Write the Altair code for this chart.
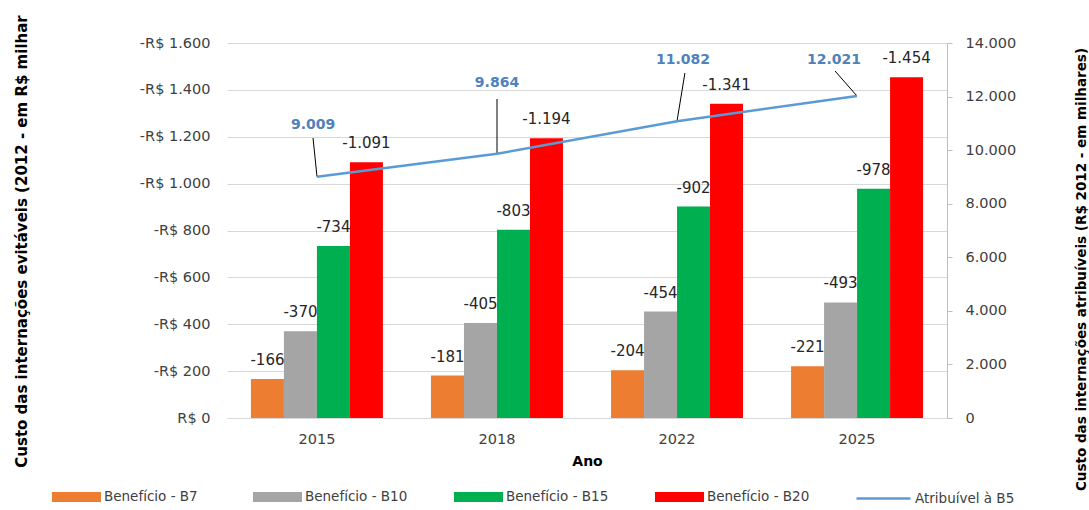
import altair as alt
import pandas as pd

# ---------------- data ----------------
anos = ["2015", "2018", "2022", "2025"]
series = ["Benefício - B7", "Benefício - B10", "Benefício - B15", "Benefício - B20"]
b7 = [-166, -181, -204, -221]
b10 = [-370, -405, -454, -493]
b15 = [-734, -803, -902, -978]
b20 = [-1091, -1194, -1341, -1454]
b5 = [9009, 9864, 11082, 12021]
linha_nome = "Atribuível à B5"
cores = ["#ED7D31", "#A5A5A5", "#00B050", "#FF0000"]
cor_linha = "#5B9BD5"

# annotation anchors for the line labels (category units / right-axis units)
rot_x = [0.478, 1.5, 2.533, 3.372]
rot_y = [10939, 12507, 13365, 13365]
guia_x = [0.478, 1.5, 2.544, 3.378]
guia_y = [10453, 11909, 12880, 12955]

FONT = "DejaVu Sans"

rows = []
for s, vals in zip(series, [b7, b10, b15, b20]):
    for a, v in zip(anos, vals):
        rows.append({"ano": a, "serie": s, "valor": v})
df_bar = pd.DataFrame(rows)

df_line = pd.DataFrame({
    "ano": anos,
    "pos": [i + 0.5 for i in range(len(anos))],
    "val": b5,
    "serie": [linha_nome] * len(anos),
    "rx": rot_x, "ry": rot_y, "gx": guia_x, "gy": guia_y,
})

# ---------------- bars ----------------
x_band = alt.X("ano:N", sort=anos,
               scale=alt.Scale(domain=anos, paddingInner=0.267, paddingOuter=0.133),
               axis=alt.Axis(title="Ano", labelAngle=0, ticks=False, domainColor="#d9d9d9",
                             labelFont=FONT, labelFontSize=14.5, labelColor="#404040",
                             labelPadding=14, titleFont=FONT, titleFontSize=14,
                             titleFontWeight="bold", titleColor="#000000", titlePadding=9))
x_off = alt.XOffset("serie:N", scale=alt.Scale(domain=series, paddingInner=0, paddingOuter=0))
y_left = alt.Y("mag:Q", scale=alt.Scale(domain=[0, 1600], nice=False),
               axis=alt.Axis(title="Custo das internações evitáveis (2012 - em R$ milhar",
                             values=list(range(0, 1601, 200)), domain=False, ticks=False,
                             grid=True, gridColor="#d9d9d9",
                             labelExpr="datum.value == 0 ? 'R$ 0' : '-R$ ' + replace(format(datum.value, ',d'), ',', '.')",
                             labelFont=FONT, labelFontSize=14.5, labelColor="#404040",
                             labelPadding=17, titleFont=FONT, titleFontSize=15,
                             titleFontWeight="bold", titleColor="#000000",
                             titleAngle=270, titleBaseline="bottom", titleX=-198, titleY=198))

bar_base = alt.Chart(df_bar).transform_calculate(
    mag="abs(datum.valor)",
    rot="'-' + replace(format(abs(datum.valor), ',d'), ',', '.')",
)

bars = bar_base.mark_bar().encode(
    x=x_band, xOffset=x_off, y=y_left,
    color=alt.Color("serie:N", scale=alt.Scale(domain=series, range=cores),
                    legend=alt.Legend(title=None, orient="none", direction="horizontal",
                                      columns=4, legendX=-175, legendY=429.5,
                                      symbolType="M-1,-0.2H1V0.2H-1Z", symbolSize=2401,
                                      symbolStrokeWidth=0, labelOffset=3,
                                      columnPadding=46, gridAlign="all", padding=0,
                                      labelFont=FONT, labelFontSize=13.5,
                                      labelColor="#404040")),
)
bar_text = bar_base.mark_text(dy=-14, baseline="alphabetic", align="center",
                              font=FONT, fontSize=15, color="#262626").encode(
    x=x_band, xOffset=x_off, y=y_left, text="rot:N")

bar_layer = alt.layer(bars, bar_text)

# ---------------- line (right axis) ----------------
xq_scale = alt.Scale(domain=[0, 4], nice=False, zero=False)
yr_scale = alt.Scale(domain=[0, 14000], nice=False)
right_axis = alt.Axis(orient="right", title="Custo das internações atribuíveis (R$ 2012 - em milhares)",
                      values=list(range(0, 14001, 2000)), grid=False, domain=True,
                      domainColor="#bfbfbf", ticks=True, tickSize=5, tickColor="#bfbfbf",
                      labelExpr="replace(format(datum.value, ',d'), ',', '.')",
                      labelFont=FONT, labelFontSize=14.5, labelColor="#404040",
                      labelPadding=13, titleFont=FONT, titleFontSize=13.5,
                      titleFontWeight="bold", titleColor="#000000",
                      titleAngle=270, titleBaseline="bottom", titleX=141, titleY=226)

line_base = alt.Chart(df_line).transform_calculate(
    lab="replace(format(datum.val, ',d'), ',', '.')")

line = line_base.mark_line(strokeWidth=2.5).encode(
    x=alt.X("pos:Q", scale=xq_scale, axis=None),
    y=alt.Y("val:Q", scale=yr_scale, axis=right_axis),
    stroke=alt.Stroke("serie:N", scale=alt.Scale(domain=[linha_nome], range=[cor_linha]),
                      legend=alt.Legend(title=None, orient="none", legendX=628, legendY=427,
                                        symbolType="stroke", symbolSize=2916,
                                        symbolStrokeWidth=2.5, labelOffset=3, padding=0,
                                        labelFont=FONT, labelFontSize=13.5,
                                        labelColor="#404040")),
)
leaders = line_base.mark_rule(color="#000000", strokeWidth=1).encode(
    x=alt.X("gx:Q", scale=xq_scale, axis=None),
    y=alt.Y("gy:Q", scale=yr_scale, axis=right_axis),
    x2="pos:Q", y2="val:Q",
)
line_text = line_base.mark_text(font=FONT, fontSize=14, fontWeight="bold",
                                color="#4F81BD", baseline="middle", align="center").encode(
    x=alt.X("rx:Q", scale=xq_scale, axis=None),
    y=alt.Y("ry:Q", scale=yr_scale, axis=right_axis),
    text="lab:N",
)

line_layer = alt.layer(leaders, line, line_text)

chart = alt.layer(bar_layer, line_layer).resolve_scale(
    x="independent", y="independent"
).properties(
    width=720, height=375,
    padding={"left": 227, "top": 43, "right": 142, "bottom": 92},
    autosize=alt.AutoSizeParams(type="none"),
    background="#ffffff",
).configure_view(stroke=None)

chart.save("out.html", embed_options={"renderer": "svg", "actions": False})
